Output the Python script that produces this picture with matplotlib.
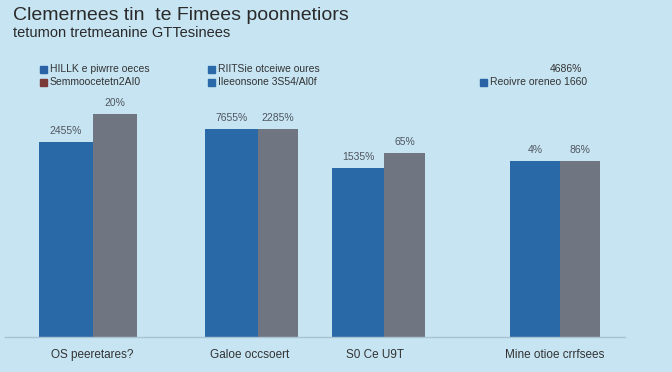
import numpy as np
import matplotlib.pyplot as plt
from matplotlib.patches import Rectangle

# data
categories = ['OS peeretares?', 'Galoe occsoert', 'S0 Ce U9T', 'Mine otioe crrfsees']
blue_vals = [82.3, 87.8, 71.3, 74.3]
gray_vals = [94.1, 87.8, 77.6, 74.3]
blue_labels = ['2455%', '7655%', '1535%', '4%']
gray_labels = ['20%', '2285%', '65%', '86%']
legend_rows = [
    [('HILLK e piwrre oeces', '#2b62a6'), ('RIITSie otceiwe oures', '#2b6aa8'), ('4686%', None)],
    [('Semmoocetetn2AI0', '#7a3a3a'), ('Ileeonsone 3S54/Al0f', '#2b6aa8'), ('Reoivre oreneo 1660', '#2b62a6')],
]

bg = '#c6e4f2'
blue = '#2a69a8'
gray = '#6f7681'

plt.rcParams['font.family'] = ['Liberation Sans', 'DejaVu Sans']

W, H = 672, 372
fig = plt.figure(figsize=(W / 100, H / 100), dpi=100)
fig.patch.set_facecolor(bg)

# axes spans pixel x 5..625, y 100..337 (from top)
ax = fig.add_axes([5 / W, 1 - 337 / H, 620 / W, 237 / H])
ax.set_facecolor(bg)
ax.set_xlim(5, 625)
ax.set_ylim(0, 100)

group_x = [93, 258, 384, 560]
blue_w = [54, 53, 52, 50]
gray_w = [44, 40, 41, 40]

for i in range(len(categories)):
    gx = group_x[i]
    ax.bar(gx - blue_w[i], blue_vals[i], width=blue_w[i], align='edge', color=blue, zorder=2)
    ax.bar(gx, gray_vals[i], width=gray_w[i], align='edge', color=gray, zorder=2)
    ax.text(gx - blue_w[i] / 2, blue_vals[i] + 2.5, blue_labels[i], ha='center', va='bottom',
            fontsize=7.5, color='#50565e')
    ax.text(gx + gray_w[i] / 2, gray_vals[i] + 2.5, gray_labels[i], ha='center', va='bottom',
            fontsize=7.5, color='#50565e')

for s in ['top', 'right', 'left']:
    ax.spines[s].set_visible(False)
ax.spines['bottom'].set_color('#a9c3d3')
ax.spines['bottom'].set_linewidth(1)
ax.set_xticks([])
ax.set_yticks([])

label_x = [92, 250, 375, 555]
for lx, c in zip(label_x, categories):
    fig.text(lx / W, 1 - 355 / H, c, ha='center', va='center', fontsize=8.5, color='#333333')

# title
fig.text(13 / W, 1 - 16 / H, 'Clemernees tin  te Fimees poonnetiors', ha='left', va='center',
         fontsize=14, color='#2a2a2a')
fig.text(13 / W, 1 - 33 / H, 'tetumon tretmeanine GTTesinees', ha='left', va='center',
         fontsize=10.5, color='#2a2a2a')

# legend drawn by hand
leg_x = [[40, 208, 550], [40, 208, 480]]
leg_y = [69, 82]
for r, row in enumerate(legend_rows):
    for c, (txt, col) in enumerate(row):
        x = leg_x[r][c]
        y = leg_y[r]
        if col is None:
            fig.text(x / W, 1 - y / H, txt, ha='left', va='center', fontsize=7.5, color='#333333')
            continue
        fig.patches.append(Rectangle((x / W, 1 - (y + 4) / H), 7 / W, 7 / H,
                                     transform=fig.transFigure, color=col))
        fig.text((x + 10) / W, 1 - y / H, txt, ha='left', va='center', fontsize=7.5, color='#333333')

fig.savefig('out.png', dpi=100, facecolor=bg)
